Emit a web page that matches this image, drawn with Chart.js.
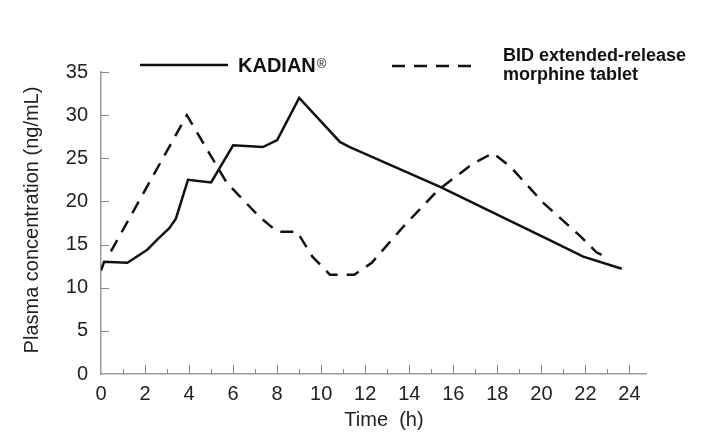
<!DOCTYPE html>
<html>
<head>
<meta charset="utf-8">
<script src="https://cdn.jsdelivr.net/npm/chart.js@4"></script>
<style>
  html, body { margin: 0; padding: 0; background: #fff; }
  #wrap { width: 714px; height: 432px; position: relative; }
</style>
</head>
<body>
<div id="wrap"><canvas id="chart" width="714" height="432"></canvas></div>
<script>
// KADIAN (solid line)
const kadianTime = [0, 0.14, 1.2, 2.1, 2.6, 3.1, 3.4, 3.95, 5.0, 6.0, 7.35, 8.0, 9.0, 10.85, 11.3, 15.4, 20.4, 21.9, 23.65];
const kadianConc = [12.0, 13.0, 12.9, 14.4, 15.7, 16.9, 18.0, 22.5, 22.2, 26.5, 26.3, 27.1, 32.0, 26.9, 26.3, 21.7, 15.5, 13.6, 12.2];

// BID extended-release morphine tablet (dashed line)
const bidTime = [0.45, 3.9, 5.7, 7.2, 8.0, 8.9, 9.6, 10.4, 11.5, 12.3, 13.7, 15.3, 16.9, 17.8, 18.6, 20.1, 21.8, 22.5, 23.05];
const bidConc = [14.2, 30.0, 22.2, 18.2, 16.5, 16.5, 13.6, 11.5, 11.5, 12.9, 17.0, 21.3, 24.4, 25.6, 24.0, 19.8, 15.9, 14.1, 13.4];

const xTicks = [0, 2, 4, 6, 8, 10, 12, 14, 16, 18, 20, 22, 24];
const yTicks = [0, 5, 10, 15, 20, 25, 30, 35];

const FONT = '"Liberation Sans", Arial, Helvetica, sans-serif';

function toPoints(xs, ys) {
    return xs.map((x, i) => ({ x: x, y: ys[i] }));
}

// draws the inward tick marks, axis titles and the legend
const decorations = {
    id: 'decorations',
    afterDraw(chart) {
        const ctx = chart.ctx;
        const xs = chart.scales.x;
        const ys = chart.scales.y;
        const area = chart.chartArea;

        ctx.save();
        ctx.strokeStyle = '#8a8a8a';
        ctx.lineWidth = 1;
        // x ticks every hour, longer at labelled hours
        for (let h = 1; h <= 24; h++) {
            const px = Math.round(xs.getPixelForValue(h)) + 0.5;
            const len = h % 2 === 0 ? 9 : 5;
            ctx.beginPath();
            ctx.moveTo(px, area.bottom);
            ctx.lineTo(px, area.bottom - len);
            ctx.stroke();
        }
        // y ticks
        yTicks.forEach(v => {
            if (v === 0) return;
            const py = Math.round(ys.getPixelForValue(v)) + 0.5;
            ctx.beginPath();
            ctx.moveTo(area.left, py);
            ctx.lineTo(area.left + 8, py);
            ctx.stroke();
        });

        // axis titles
        ctx.fillStyle = '#222';
        ctx.font = '20px ' + FONT;
        ctx.textAlign = 'center';
        ctx.textBaseline = 'middle';
        ctx.fillText('Time  (h)', 384, 420);

        ctx.save();
        ctx.translate(32, 220);
        ctx.rotate(-Math.PI / 2);
        ctx.fillText('Plasma concentration (ng/mL)', 0, 0);
        ctx.restore();

        // legend
        ctx.strokeStyle = '#111';
        ctx.lineWidth = 2.5;
        ctx.beginPath();
        ctx.moveTo(140, 65);
        ctx.lineTo(228, 65);
        ctx.stroke();

        ctx.setLineDash([13, 9]);
        ctx.beginPath();
        ctx.moveTo(392, 66);
        ctx.lineTo(478, 66);
        ctx.stroke();
        ctx.setLineDash([]);

        ctx.fillStyle = '#111';
        ctx.textAlign = 'left';
        ctx.textBaseline = 'alphabetic';
        ctx.font = 'bold 20px ' + FONT;
        ctx.fillText('KADIAN', 238, 72);
        const w = ctx.measureText('KADIAN').width;
        ctx.font = '13px ' + FONT;
        ctx.fillText('\u00AE', 238 + w + 1, 68);

        ctx.font = 'bold 18px ' + FONT;
        ctx.fillText('BID extended-release', 503, 61);
        ctx.fillText('morphine tablet', 503, 80);
        ctx.restore();
    }
};

new Chart(document.getElementById('chart'), {
    type: 'line',
    data: {
        datasets: [
            {
                label: 'KADIAN\u00AE',
                data: toPoints(kadianTime, kadianConc),
                borderColor: '#111',
                borderWidth: 2.5,
                pointRadius: 0,
                tension: 0,
                fill: false
            },
            {
                label: 'BID extended-release morphine tablet',
                data: toPoints(bidTime, bidConc),
                borderColor: '#111',
                borderWidth: 2.5,
                borderDash: [13, 9],
                pointRadius: 0,
                tension: 0,
                fill: false
            }
        ]
    },
    options: {
        responsive: false,
        animation: false,
        layout: { padding: { left: 0, right: 68, top: 72, bottom: 0 } },
        plugins: {
            legend: { display: false },
            tooltip: { enabled: false }
        },
        scales: {
            x: {
                type: 'linear',
                min: 0,
                max: 24.75,
                afterFit: s => { s.height = 58; },
                afterBuildTicks: s => { s.ticks = xTicks.map(v => ({ value: v })); },
                grid: { display: false, drawTicks: false },
                border: { display: true, color: '#9a9a9a', width: 1.5 },
                ticks: {
                    padding: 8,
                    color: '#222',
                    font: { family: FONT, size: 20 },
                    maxRotation: 0,
                    autoSkip: false
                }
            },
            y: {
                min: 0,
                max: 35,
                afterFit: s => { s.width = 101; },
                afterBuildTicks: s => { s.ticks = yTicks.map(v => ({ value: v })); },
                grid: { display: false, drawTicks: false },
                border: { display: true, color: '#9a9a9a', width: 1.5 },
                ticks: {
                    padding: 13,
                    color: '#222',
                    font: { family: FONT, size: 20 }
                }
            }
        }
    },
    plugins: [decorations]
});
</script>
</body>
</html>
